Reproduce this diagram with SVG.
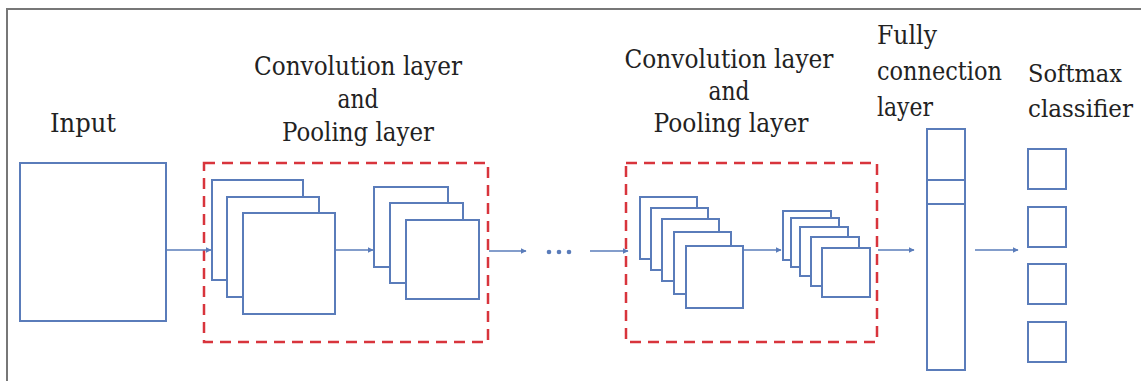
<svg xmlns="http://www.w3.org/2000/svg" width="1141" height="381" viewBox="0 0 1141 381">
<defs>
<marker id="ah" viewBox="0 0 10 10" refX="9" refY="5" markerWidth="6" markerHeight="6" markerUnits="userSpaceOnUse" orient="auto">
<path d="M0,0 L10,5 L0,10 z" fill="#5a7cba"/>
</marker>
<style>
text{font-family:'DejaVu Serif','Liberation Serif',serif;font-size:26px;fill:#222}
.c{text-anchor:middle}
.s{font-size:24.5px}
.sq{fill:#fff;stroke:#5a7cba;stroke-width:2}
.grp{fill:none;stroke:#d8343c;stroke-width:2.5;stroke-dasharray:11 7}
.cn{stroke:#5a7cba;stroke-width:1.5;fill:none;marker-end:url(#ah)}
</style>
</defs>
<rect width="1141" height="381" fill="#fff"/>
<path d="M7,381 V9 H1141" fill="none" stroke="#777" stroke-width="2"/>

<g id="input">
<text x="50" y="132" textLength="66" lengthAdjust="spacingAndGlyphs">Input</text>
<rect class="sq" x="20" y="163" width="146" height="158"/>
</g>

<g id="convpool1">
<text class="c" x="358" y="75" textLength="208" lengthAdjust="spacingAndGlyphs">Convolution layer</text>
<text class="c" x="358" y="108" textLength="41" lengthAdjust="spacingAndGlyphs">and</text>
<text class="c" x="358" y="141" textLength="152" lengthAdjust="spacingAndGlyphs">Pooling layer</text>
<rect class="grp" x="204" y="163" width="284" height="179"/>
</g>
<g id="stack1">
<rect class="sq" x="212" y="180" width="91" height="100"/>
<rect class="sq" x="227" y="197" width="92" height="100"/>
<rect class="sq" x="243" y="213" width="92" height="101"/>
</g>
<g id="stack2">
<rect class="sq" x="374" y="187" width="74" height="80"/>
<rect class="sq" x="390" y="203" width="73" height="80"/>
<rect class="sq" x="406" y="220" width="73" height="79"/>
</g>

<g id="ellipsis">
<circle cx="549" cy="252" r="2.3" fill="#5a7cba"/>
<circle cx="559" cy="252" r="2.3" fill="#5a7cba"/>
<circle cx="569" cy="252" r="2.3" fill="#5a7cba"/>
</g>

<g id="convpool2">
<text class="c" x="729" y="68" textLength="209" lengthAdjust="spacingAndGlyphs">Convolution layer</text>
<text class="c" x="729" y="100" textLength="41" lengthAdjust="spacingAndGlyphs">and</text>
<text class="c" x="731" y="132" textLength="155" lengthAdjust="spacingAndGlyphs">Pooling layer</text>
<rect class="grp" x="626" y="163" width="251" height="179"/>
</g>
<g id="stack3">
<rect class="sq" x="640" y="197" width="57" height="62"/>
<rect class="sq" x="651" y="208" width="57" height="62"/>
<rect class="sq" x="662" y="219" width="57" height="62"/>
<rect class="sq" x="674" y="232" width="57" height="62"/>
<rect class="sq" x="686" y="246" width="57" height="62"/>
</g>
<g id="stack4">
<rect class="sq" x="783" y="211" width="48" height="49"/>
<rect class="sq" x="791" y="218" width="48" height="49"/>
<rect class="sq" x="800" y="227" width="48" height="49"/>
<rect class="sq" x="811" y="237" width="48" height="49"/>
<rect class="sq" x="822" y="248" width="48" height="49"/>
</g>

<g id="fc">
<text x="877" y="44" textLength="60" lengthAdjust="spacingAndGlyphs">Fully</text>
<text x="877" y="80" textLength="125" lengthAdjust="spacingAndGlyphs">connection</text>
<text x="877" y="116" textLength="56" lengthAdjust="spacingAndGlyphs">layer</text>
<rect class="sq" x="927" y="129" width="38" height="241"/>
<line x1="927" y1="180" x2="965" y2="180" stroke="#5a7cba" stroke-width="2"/>
<line x1="927" y1="204" x2="965" y2="204" stroke="#5a7cba" stroke-width="2"/>
</g>

<g id="softmax">
<text class="s" x="1028" y="82" textLength="94" lengthAdjust="spacingAndGlyphs">Softmax</text>
<text class="s" x="1028" y="117" textLength="105" lengthAdjust="spacingAndGlyphs">classifier</text>
<rect class="sq" x="1028" y="149" width="38" height="40"/>
<rect class="sq" x="1028" y="207" width="38" height="40"/>
<rect class="sq" x="1028" y="264" width="38" height="40"/>
<rect class="sq" x="1028" y="322" width="38" height="40"/>
</g>

<g id="connectors">
<line class="cn" x1="167" y1="250" x2="211" y2="250"/>
<line class="cn" x1="336" y1="250" x2="373" y2="250"/>
<line class="cn" x1="489" y1="251" x2="526" y2="251"/>
<line class="cn" x1="590" y1="251" x2="628" y2="251"/>
<line class="cn" x1="744" y1="250" x2="781" y2="250"/>
<line class="cn" x1="878" y1="250" x2="914" y2="250"/>
<line class="cn" x1="975" y1="250" x2="1018" y2="250"/>
</g>
</svg>
